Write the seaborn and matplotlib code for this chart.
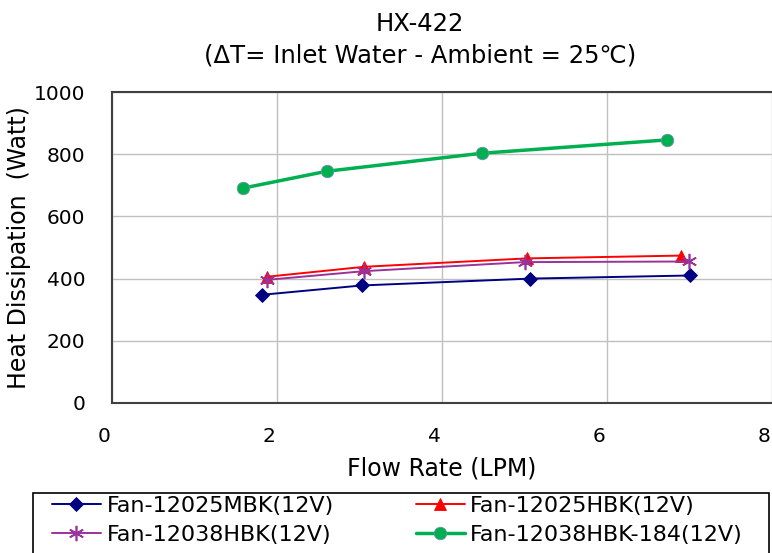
import numpy as np
import pandas as pd
import seaborn as sns
import matplotlib.pyplot as plt
import matplotlib.transforms as mtransforms
from matplotlib.patches import Rectangle

# values
series_names = ["Fan-12025MBK(12V)", "Fan-12025HBK(12V)", "Fan-12038HBK(12V)", "Fan-12038HBK-184(12V)"]
flow_mbk = [1.82, 3.03, 5.07, 7.01]
heat_mbk = [348, 378, 400, 410]
flow_hbk = [1.88, 3.06, 5.03, 6.90]
heat_hbk = [406, 438, 465, 474]
flow_38 = [1.88, 3.06, 5.00, 6.99]
heat_38 = [396, 424, 453, 455]
flow_184 = [1.59, 2.60, 4.48, 6.73]
heat_184 = [691, 745, 803, 846]

x_ticks = [0, 2, 4, 6, 8]
y_ticks = [0, 200, 400, 600, 800, 1000]

colors = ["#000080", "#FF0000", "#993399", "#00B050"]
markers = ["D", "^", (6, 2, 0), "o"]
msizes = [7, 9, 11, 9]

sns.set_theme(style="whitegrid")
plt.rcParams["font.family"] = ["DejaVu Sans", "Noto Sans CJK KR"]
plt.rcParams["text.color"] = "black"
plt.rcParams["axes.labelcolor"] = "black"
plt.rcParams["xtick.color"] = "black"
plt.rcParams["ytick.color"] = "black"

W, H = 772, 553
fig = plt.figure(figsize=(W / 100, H / 100), dpi=100)
ax = fig.add_axes([112 / W, 1 - 403 / H, 660 / W, 311 / H])

data = [(flow_mbk, heat_mbk), (flow_hbk, heat_hbk), (flow_38, heat_38), (flow_184, heat_184)]
for i, (fx, hy) in enumerate(data):
    df = pd.DataFrame({"flow": fx, "heat": hy})
    lw = 2.5 if i == 3 else 1.4
    sns.lineplot(data=df, x="flow", y="heat", ax=ax, color=colors[i], marker=markers[i],
                 markersize=msizes[i], markeredgecolor=colors[i] if i != 3 else "#6f8fb0",
                 markeredgewidth=1.2 if i == 2 else 0.6, linewidth=lw, label=series_names[i],
                 legend=False, sort=False)

ax.set_xlim(0, 8)
ax.set_ylim(0, 1000)
ax.set_xticks(x_ticks)
ax.set_yticks(y_ticks)
ax.tick_params(axis="x", labelsize=14.5, length=0, pad=17)
ax.tick_params(axis="y", labelsize=14.5, length=0, pad=19)
shift = mtransforms.ScaledTranslation(-8 / 100, 0, fig.dpi_scale_trans)
for lab in ax.get_xticklabels():
    lab.set_transform(lab.get_transform() + shift)
ax.grid(True, color="#c0c0c0", linewidth=1)
for s in ["left", "bottom", "top"]:
    ax.spines[s].set_color("#404040")
    ax.spines[s].set_linewidth(1.5)
ax.spines["right"].set_visible(False)

ax.set_xlabel("Flow Rate (LPM)", fontsize=17, labelpad=8)
ax.set_ylabel("Heat Dissipation  (Watt)", fontsize=17, labelpad=2)
fig.text(420 / W, 1 - 24 / H, "HX-422", ha="center", va="center", fontsize=17.5)
fig.text(420 / W, 1 - 56 / H, "(ΔT= Inlet Water - Ambient = 25℃)", ha="center", va="center", fontsize=17.5)

handles, labels = ax.get_legend_handles_labels()
order = [0, 2, 1, 3]
leg = fig.legend([handles[k] for k in order], [labels[k] for k in order],
                 loc="upper left", bbox_to_anchor=(52 / W, 1 - 496 / H),
                 ncol=2, fontsize=16, frameon=False,
                 handlelength=2.2, handletextpad=0.25, borderaxespad=0, borderpad=0,
                 labelspacing=0.4, columnspacing=3.7)
fig.add_artist(Rectangle((33 / W, -0.05), (769 - 33) / W, (1 - 493 / H) + 0.05,
                         transform=fig.transFigure, fill=False, edgecolor="black", linewidth=1.2))

plt.savefig("out.png", dpi=100)
